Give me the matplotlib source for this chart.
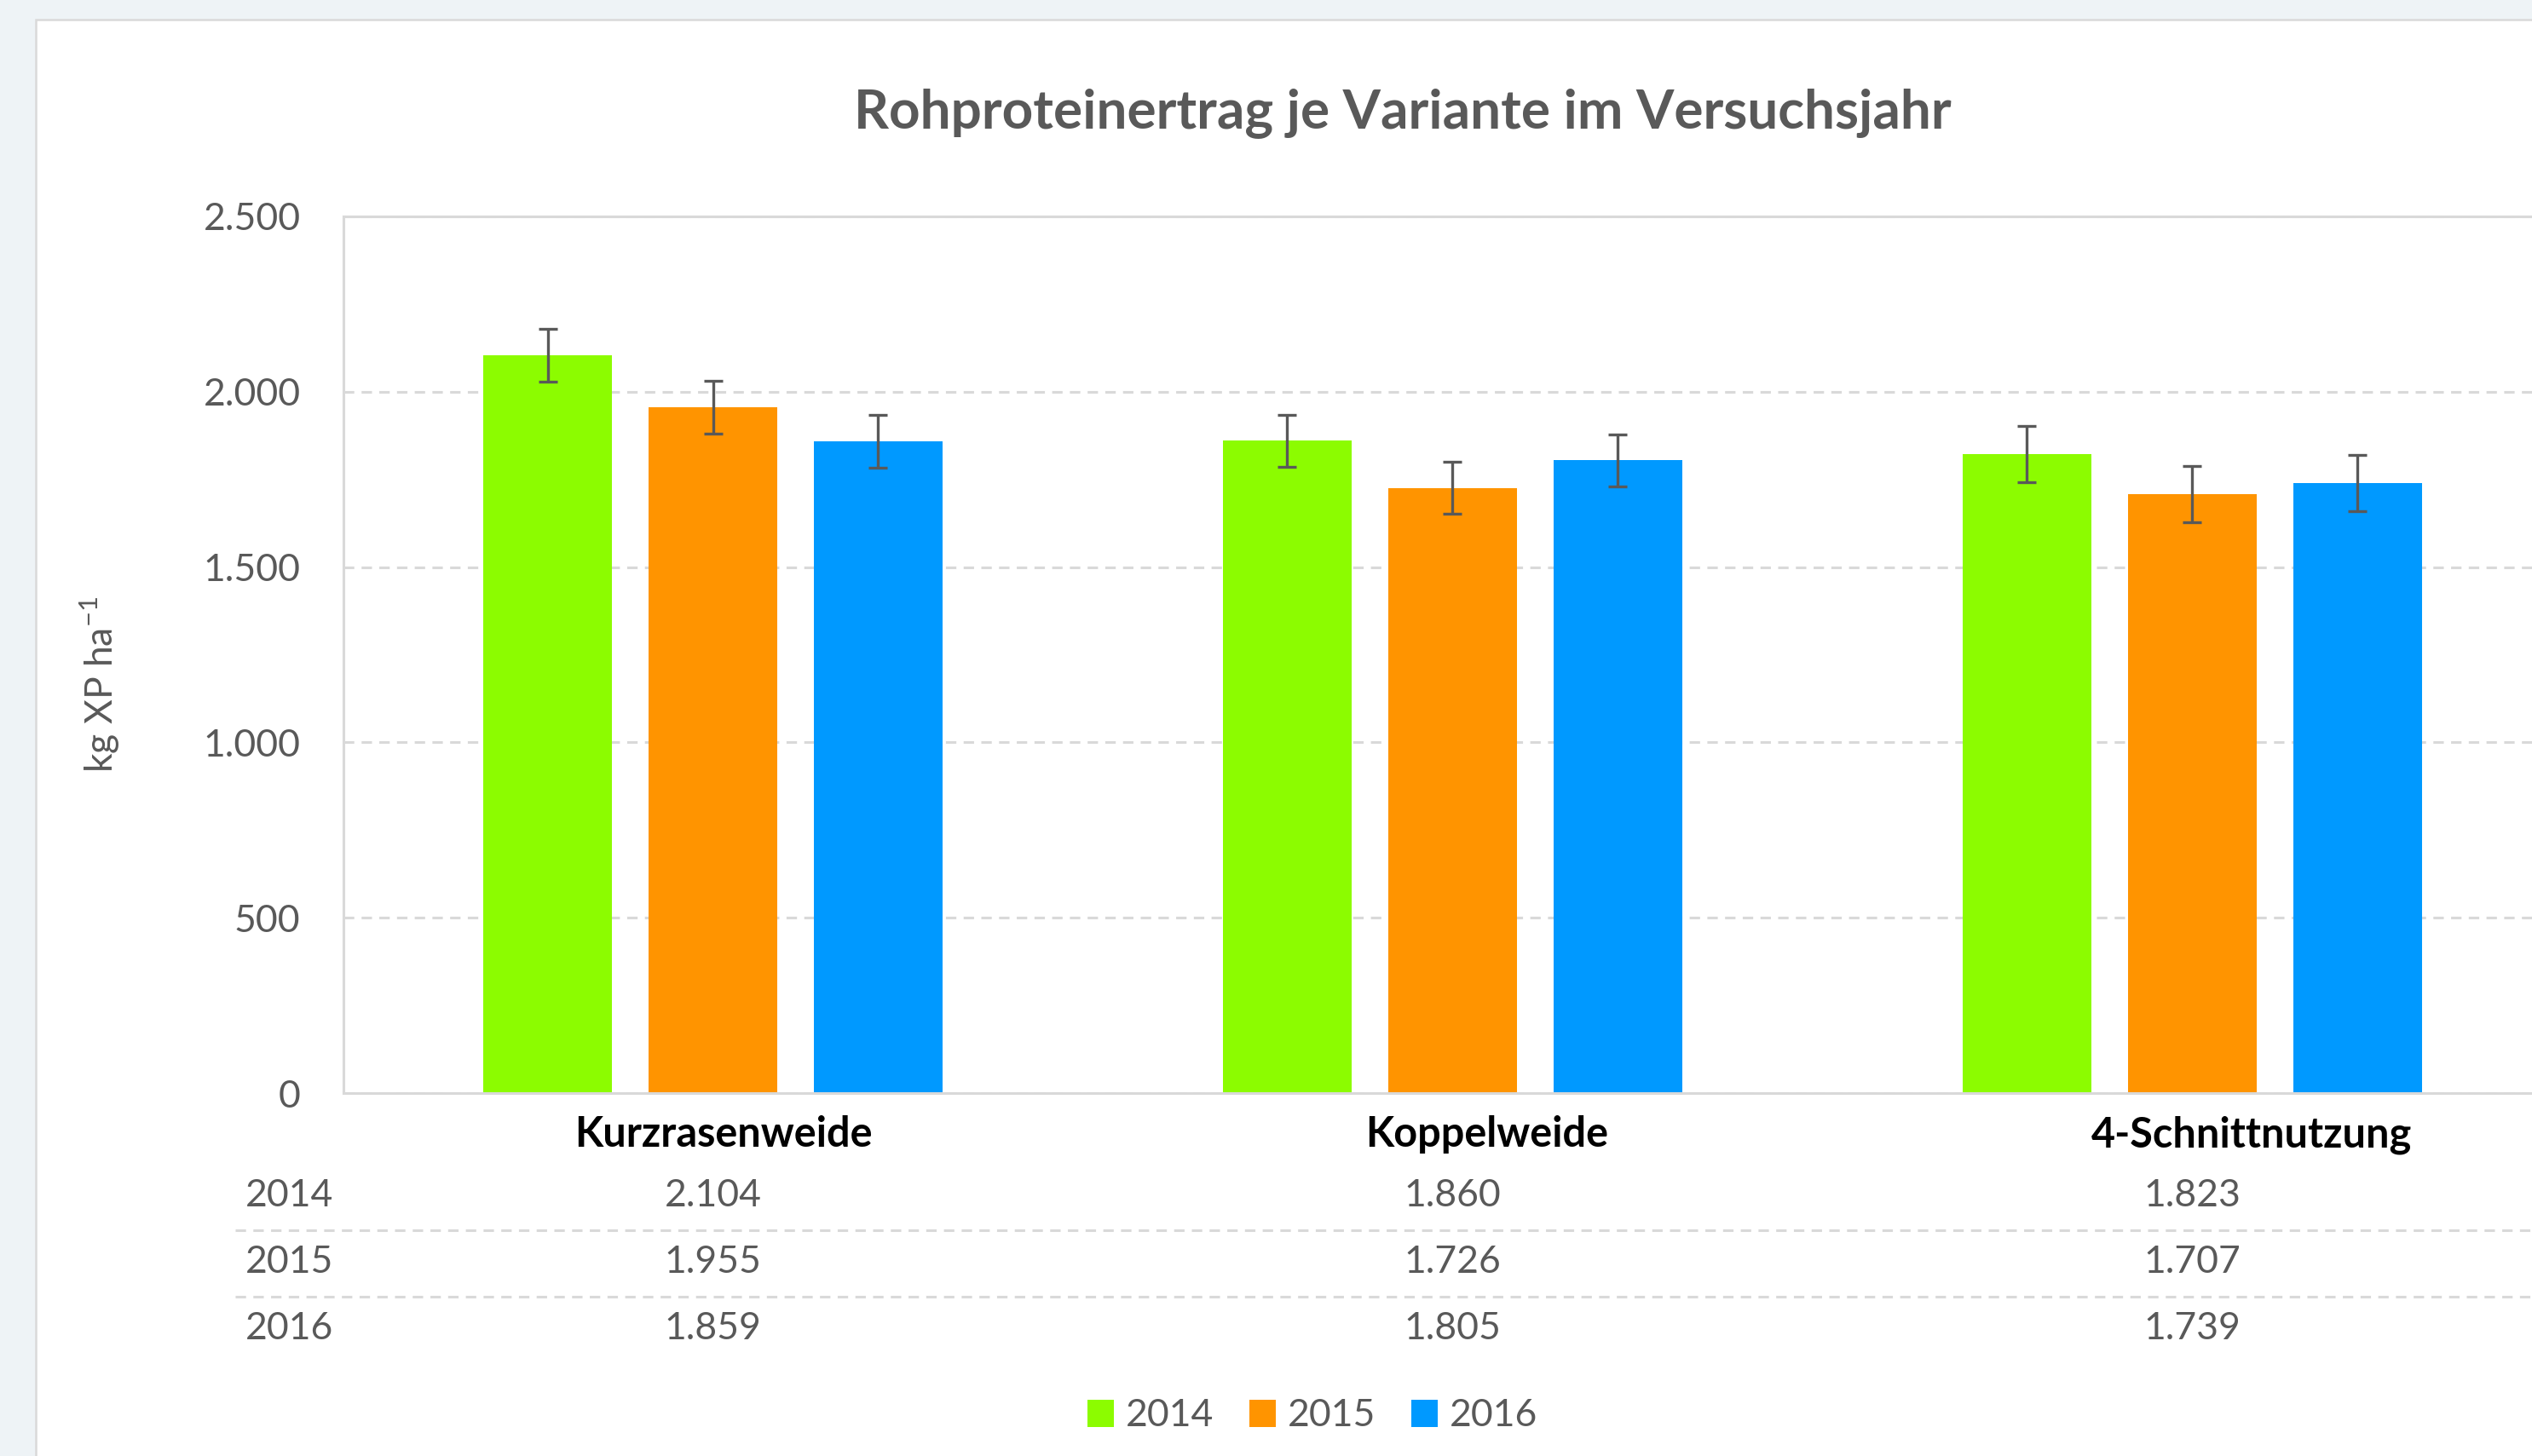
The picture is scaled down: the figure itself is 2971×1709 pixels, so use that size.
import matplotlib
matplotlib.use("Agg")
import matplotlib.pyplot as plt
import numpy as np
from matplotlib import transforms
from matplotlib.lines import Line2D
from matplotlib.patches import Patch, Rectangle

plt.rcParams["font.family"] = ["Lato", "DejaVu Sans"]
plt.rcParams["mathtext.fontset"] = "custom"
plt.rcParams["mathtext.rm"] = "Lato"

# --- Daten -----------------------------------------------------------------
varianten = ["Kurzrasenweide", "Koppelweide", "4-Schnittnutzung"]
jahre = ["2014", "2015", "2016"]
werte_2014 = [2104, 1860, 1823]
werte_2015 = [1955, 1726, 1707]
werte_2016 = [1859, 1805, 1739]
fehler_2014 = [75, 74, 80]
fehler_2015 = [75, 74, 80]
fehler_2016 = [75, 74, 80]
y_ticks = [0, 500, 1000, 1500, 2000, 2500]
y_tick_labels = ["0", "500", "1.000", "1.500", "2.000", "2.500"]
titel = "Rohproteinertrag je Variante im Versuchsjahr"
y_titel = r"kg XP ha$^{\mathregular{-1}}$"

farben = ["#8CFC00", "#FF9400", "#0099FF"]
grau_text = "#595959"
grau_linie = "#D9D9D9"

# --- Figur (Pixelmasse der Vorlage) ----------------------------------------
W, H = 2971, 1709
fig = plt.figure(figsize=(W / 100, H / 100), dpi=100, facecolor="#EEF3F6")


def fx(px):
    return px / W


def fy(py):
    return 1 - py / H


# weisse Diagrammflaeche (hinter allem)
fig.patches.append(Rectangle((fx(42), -0.05), 1.1, fy(23) + 0.05,
                             transform=fig.transFigure, facecolor="white",
                             edgecolor=grau_linie, linewidth=1.8, zorder=-10))

# Zeichnungsflaeche ragt rechts ueber den Bildrand hinaus
ax = fig.add_axes([fx(402.6), fy(1283), (3006 - 402.6) / W, (1283 - 254) / H])
ax.set_facecolor("none")
ax.set_zorder(1)

x = np.arange(len(varianten))
versatz = 0.2235
breite = 0.174
reihen = [(werte_2014, fehler_2014), (werte_2015, fehler_2015), (werte_2016, fehler_2016)]
for i, (werte, fehler) in enumerate(reihen):
    pos = x + (i - 1) * versatz
    ax.bar(pos, werte, width=breite, color=farben[i], zorder=2)
    ax.errorbar(pos, werte, yerr=fehler, fmt="none", ecolor=grau_text,
                elinewidth=2.4, capsize=7.8, capthick=2.4, zorder=3)

ax.set_xlim(-0.5, 2.5)
ax.set_ylim(0, 2500)
ax.set_xticks([])
ax.set_yticks(y_ticks, y_tick_labels)
ax.tick_params(axis="y", length=0, pad=36, labelsize=32, labelcolor=grau_text)
ax.yaxis.grid(True, color=grau_linie, linewidth=2.2, linestyle=(0, (4, 2.8)))
ax.set_axisbelow(True)
for s in ax.spines.values():
    s.set_color(grau_linie)
    s.set_linewidth(2.2)

# Kategorien und Datentabelle unter der Achse
trans = transforms.blended_transform_factory(ax.transData, fig.transFigure)
label_versatz = [0.014, 0.047, 0.081]
for i, name in enumerate(varianten):
    ax.text(i + label_versatz[i], fy(1332), name, transform=trans, ha="center",
            va="center", fontsize=35, fontweight="bold", color="black")

zeilen_y = [1404, 1482, 1560]
for jahr, werte, zy in zip(jahre, [werte_2014, werte_2015, werte_2016], zeilen_y):
    fig.text(fx(288), fy(zy), jahr, ha="left", va="center", fontsize=32, color=grau_text)
    for i, v in enumerate(werte):
        ax.text(i, fy(zy), f"{v:,}".replace(",", "."), transform=trans,
                ha="center", va="center", fontsize=32, color=grau_text)

for ly in [1444, 1522]:
    fig.add_artist(Line2D([fx(276), 1.0], [fy(ly), fy(ly)], color=grau_linie,
                          linewidth=2.2, linestyle=(0, (4, 2.8))))

# Titel, Achsentitel, Legende
fig.text(fx(1646), fy(133), titel, ha="center", va="center", fontsize=46,
         fontweight="bold", color=grau_text)
fig.text(fx(117), fy(803), y_titel, rotation=90, ha="center", va="center",
         fontsize=32, color=grau_text)

handles = [Patch(facecolor=c) for c in farben]
fig.legend(handles, jahre, loc="center", bbox_to_anchor=(fx(1540), fy(1662)),
           ncol=3, frameon=False, fontsize=32, handlelength=0.7,
           handleheight=0.7, handletextpad=0.3, columnspacing=0.95,
           labelcolor=grau_text)

fig.savefig("out.png", dpi=100, facecolor=fig.get_facecolor())
